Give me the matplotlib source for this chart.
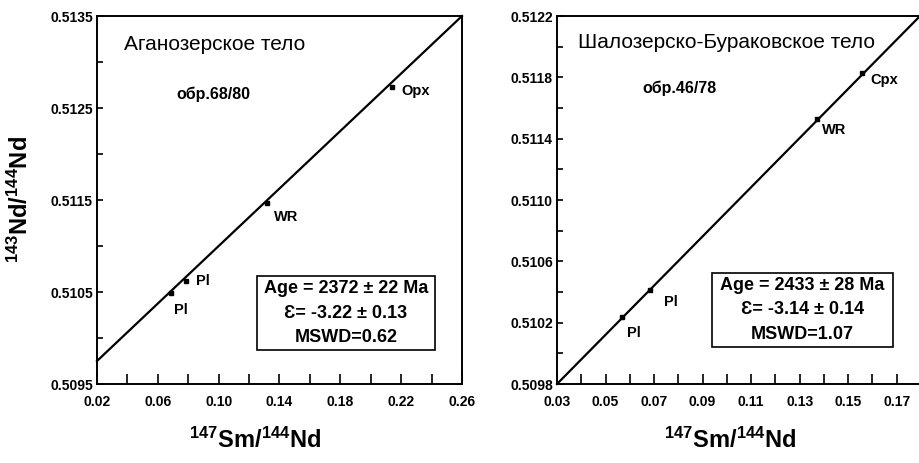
import matplotlib
matplotlib.use("Agg")
import matplotlib.pyplot as plt
from matplotlib.ticker import MultipleLocator, FixedLocator
from matplotlib.patches import Rectangle

plt.rcParams['font.family'] = ['Liberation Sans', 'DejaVu Sans']
plt.rcParams['mathtext.fontset'] = 'custom'
plt.rcParams['mathtext.rm'] = 'Liberation Sans:bold'
plt.rcParams['mathtext.bf'] = 'Liberation Sans:bold'
plt.rcParams['mathtext.default'] = 'rm'

# Left panel: Аганозерское тело
left_labels = ["Pl", "Pl", "WR", "Opx"]
left_x = [0.0687, 0.0786, 0.1318, 0.214]
left_y = [0.51049, 0.51062, 0.51147, 0.51273]
left_line_x = [0.02, 0.26]
left_line_y = [0.50975, 0.5135]
left_xticks = [0.02, 0.06, 0.10, 0.14, 0.18, 0.22, 0.26]
left_yticks = [0.5095, 0.5105, 0.5115, 0.5125, 0.5135]

# Right panel: Шалозерско-Бураковское тело
right_labels = ["Pl", "Pl", "WR", "Cpx"]
right_x = [0.0567, 0.0683, 0.137, 0.1555]
right_y = [0.51024, 0.51041, 0.51153, 0.51183]
right_line_x = [0.03, 0.1796]
right_line_y = [0.5098, 0.5122]
right_xticks = [0.03, 0.05, 0.07, 0.09, 0.11, 0.13, 0.15, 0.17]
right_yticks = [0.5098, 0.5102, 0.5106, 0.5110, 0.5114, 0.5118, 0.5122]

W, H = 919, 463
fig = plt.figure(figsize=(W / 100, H / 100), dpi=100)

def px_axes(x0, y0, x1, y1):
    return fig.add_axes([x0 / W, 1 - y1 / H, (x1 - x0) / W, (y1 - y0) / H])

axL = px_axes(97, 16, 462, 384)
axR = px_axes(557, 16, 921, 384)

def style(ax, xlim, ylim, xmaj, xminor, ymaj, yminor, xfmt, yfmt):
    ax.set_xlim(*xlim)
    ax.set_ylim(*ylim)
    ax.xaxis.set_major_locator(FixedLocator(xmaj))
    ax.xaxis.set_minor_locator(MultipleLocator(xminor))
    ax.yaxis.set_major_locator(FixedLocator(ymaj))
    ax.yaxis.set_minor_locator(MultipleLocator(yminor))
    ax.set_xticklabels([xfmt.format(v) for v in xmaj], fontsize=10, fontweight='bold')
    ax.set_yticklabels([yfmt.format(v) for v in ymaj], fontsize=10, fontweight='bold')
    ax.tick_params(axis='x', which='both', direction='in', length=7, width=1.2, pad=8)
    ax.tick_params(axis='y', which='both', direction='in', length=4, width=1.2, pad=3)
    for s in ax.spines.values():
        s.set_linewidth(1.4)

style(axL, (0.02, 0.26), (0.5095, 0.5135), left_xticks, 0.02, left_yticks, 0.0005,
      "{:.2f}", "{:.4f}")
style(axR, (0.03, 0.18), (0.5098, 0.5122), right_xticks, 0.01, right_yticks, 0.0002,
      "{:.2f}", "{:.4f}")

# Lines and points
axL.plot(left_line_x, left_line_y, color='black', lw=1.6, clip_on=False)
axL.plot(left_x, left_y, 's', color='black', ms=2.5)
axR.plot(right_line_x, right_line_y, color='black', lw=1.6, clip_on=False)
axR.plot(right_x, right_y, 's', color='black', ms=2.5)

# Point labels (offsets in points)
left_offsets = [(2, -12), (7, 0), (5, -10), (7, -3)]
right_offsets = [(4, -12), (10, -8), (4, -8), (6, -5)]
for lab, x, y, off in zip(left_labels, left_x, left_y, left_offsets):
    axL.annotate(lab, (x, y), xytext=off, textcoords='offset points',
                 fontsize=10.5, fontweight='bold', ha='left', va='center')
for lab, x, y, off in zip(right_labels, right_x, right_y, right_offsets):
    axR.annotate(lab, (x, y), xytext=off, textcoords='offset points',
                 fontsize=10.5, fontweight='bold', ha='left', va='center')

def ftext(x, y, s, **kw):
    fig.text(x / W, 1 - y / H, s, **kw)

ftext(124, 45, "Аганозерское тело", fontsize=15, ha='left', va='center')
ftext(176, 94, "обр.68/80", fontsize=11.5, fontweight='bold', ha='left', va='center')
ftext(578, 42, "Шалозерско-Бураковское тело", fontsize=15, ha='left', va='center')
ftext(642, 88, "обр.46/78", fontsize=11.5, fontweight='bold', ha='left', va='center')

def box(x0, y0, x1, y1, lines):
    fig.patches.append(Rectangle((x0 / W, 1 - y1 / H), (x1 - x0) / W, (y1 - y0) / H,
                                 transform=fig.transFigure, fill=False,
                                 edgecolor='black', lw=1.2))
    cx = (x0 + x1) / 2
    n = len(lines)
    h = (y1 - y0)
    for i, s in enumerate(lines):
        ftext(cx, y0 + h * (i + 0.5) / n, s, fontsize=13, fontweight='bold',
              ha='center', va='center')

box(257, 276, 435, 350, ["Age = 2372 ± 22 Ma", "Ɛ= -3.22 ± 0.13", "MSWD=0.62"])
box(712, 273, 893, 347, ["Age = 2433 ± 28 Ma", "Ɛ= -3.14 ± 0.14", "MSWD=1.07"])

ftext(255, 440, r"$^{147}$Sm/$^{144}$Nd", fontsize=17, fontweight='bold', ha='center', va='center')
ftext(730, 440, r"$^{147}$Sm/$^{144}$Nd", fontsize=17, fontweight='bold', ha='center', va='center')
ftext(20, 200, r"$^{143}$Nd/$^{144}$Nd", fontsize=17, fontweight='bold', ha='center', va='center',
      rotation=90)

fig.savefig("out.png", dpi=100)
